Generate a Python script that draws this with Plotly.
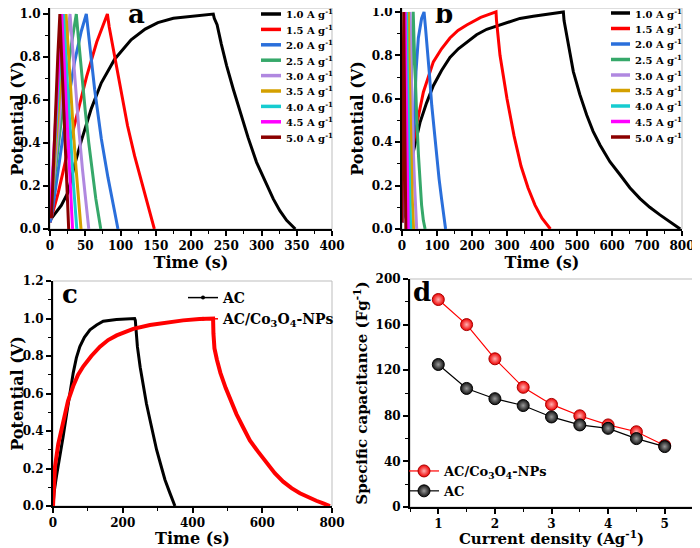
import plotly.graph_objects as go

FONT = "DejaVu Serif"

# ---------------- Panel a : GCD at various current densities ----------------
a_labels = ["1.0 A g<sup>-1</sup>", "1.5 A g<sup>-1</sup>", "2.0 A g<sup>-1</sup>", "2.5 A g<sup>-1</sup>",
            "3.0 A g<sup>-1</sup>", "3.5 A g<sup>-1</sup>", "4.0 A g<sup>-1</sup>", "4.5 A g<sup>-1</sup>",
            "5.0 A g<sup>-1</sup>"]
colors = ["#000000", "#ff0000", "#2a6fdb", "#36a86a", "#b088e0", "#d4a000", "#16ccd0", "#ff00ff", "#8b0000"]

a_t_10 = [0, 2, 16, 25.5, 35, 44.4, 58.6, 72.8, 91.7, 115, 135, 153, 175, 200, 231.6,
          233, 237, 243, 250.5, 260, 269.5, 281, 293, 305, 316.7, 326, 335.6, 348]
a_v_10 = [0.04, 0.05, 0.11, 0.17, 0.30, 0.41, 0.56, 0.68, 0.79, 0.88, 0.93, 0.96, 0.98, 0.99, 1.0,
          0.98, 0.95, 0.86, 0.76, 0.65, 0.545, 0.425, 0.31, 0.22, 0.14, 0.085, 0.04, 0.0]
a_t_15 = [0, 11.8, 23.7, 37.9, 52, 66.3, 81.4, 84, 90, 100, 110, 120, 130, 140, 148]
a_v_15 = [0.03, 0.17, 0.34, 0.52, 0.71, 0.87, 1.0, 0.94, 0.83, 0.65, 0.48, 0.34, 0.22, 0.10, 0.0]
a_t_20 = [0, 1.9, 16, 25.5, 35, 44.4, 51.5, 56.2, 63.3, 72.8, 82.2, 91.7, 96.4]
a_v_20 = [0.03, 0.05, 0.375, 0.59, 0.78, 0.92, 1.0, 0.86, 0.65, 0.42, 0.24, 0.08, 0.0]
a_t_25 = [0, 10, 20, 30, 37.3, 40, 45, 50, 55, 60, 65, 72]
a_v_25 = [0.05, 0.35, 0.62, 0.85, 1.0, 0.9, 0.72, 0.55, 0.40, 0.26, 0.14, 0.0]
a_t_30 = [0, 7, 14, 21, 28.4, 31, 36, 41, 46, 51, 55]
a_v_30 = [0.05, 0.30, 0.55, 0.78, 1.0, 0.88, 0.66, 0.46, 0.28, 0.12, 0.0]
a_t_35 = [0, 6, 12, 17, 22.7, 25, 29, 33, 37, 41, 44]
a_v_35 = [0.05, 0.30, 0.56, 0.77, 1.0, 0.88, 0.66, 0.46, 0.28, 0.12, 0.0]
a_t_40 = [0, 5, 10, 15, 19, 21, 25, 29, 33, 38]
a_v_40 = [0.05, 0.30, 0.56, 0.80, 1.0, 0.88, 0.64, 0.42, 0.22, 0.0]
a_t_45 = [0, 4, 8, 12, 16.6, 18.5, 22, 25, 28, 32]
a_v_45 = [0.05, 0.28, 0.52, 0.75, 1.0, 0.88, 0.64, 0.44, 0.25, 0.0]
a_t_50 = [2, 5, 8, 11, 14, 15.5, 18, 21, 24, 26.5]
a_v_50 = [0.05, 0.32, 0.60, 0.80, 1.0, 0.88, 0.66, 0.42, 0.20, 0.0]

# ---------------- Panel b ----------------
b_t_10 = [0, 10, 20, 32.4, 51.4, 70, 89.5, 113, 137, 161, 185, 213, 242, 280, 310, 337, 375, 420, 461,
          463, 466, 470.5, 480, 489.5, 508, 527.7, 546, 565.7, 594, 623, 651, 680, 708, 737, 766, 795]
b_v_10 = [0.03, 0.15, 0.25, 0.356, 0.49, 0.58, 0.66, 0.73, 0.79, 0.83, 0.86, 0.895, 0.92, 0.94, 0.958,
          0.97, 0.98, 0.99, 1.0,
          0.96, 0.93, 0.89, 0.81, 0.725, 0.62, 0.525, 0.45, 0.387, 0.31, 0.25, 0.19, 0.14, 0.10,
          0.065, 0.032, 0.0]
b_t_15 = [0, 8, 18, 32, 42, 61, 89.5, 113, 137, 160, 185, 225, 268.6,
          270, 272, 280, 290, 300, 320, 340, 360, 380, 400, 424]
b_v_15 = [0.03, 0.15, 0.27, 0.39, 0.48, 0.63, 0.77, 0.83, 0.88, 0.915, 0.94, 0.975, 1.0,
          0.96, 0.92, 0.80, 0.70, 0.60, 0.43, 0.29, 0.19, 0.11, 0.05, 0.0]
b_t_20 = [0, 10, 20, 30, 35.2, 40, 46.7, 56, 63,
          67, 70.5, 78, 85, 92, 99, 106, 113, 119, 124.5]
b_v_20 = [0.03, 0.12, 0.22, 0.35, 0.49, 0.725, 0.88, 0.97, 1.0,
          0.93, 0.87, 0.72, 0.57, 0.45, 0.34, 0.23, 0.14, 0.06, 0.0]
b_t_25 = [0, 10, 20, 25, 28, 30, 32, 34.5, 37, 42, 47, 52, 56, 61, 66]
b_v_25 = [0.03, 0.15, 0.30, 0.50, 0.75, 0.90, 1.0, 0.86, 0.725, 0.52, 0.34, 0.20, 0.11, 0.04, 0.0]
b_t_30 = [0, 8, 15, 19, 22, 23, 25, 28, 32, 36, 39, 42]
b_v_30 = [0.03, 0.20, 0.45, 0.70, 0.90, 1.0, 0.82, 0.60, 0.38, 0.20, 0.09, 0.0]
b_t_35 = [0, 6, 12, 15, 18, 20, 23, 26, 29, 33]
b_v_35 = [0.03, 0.25, 0.55, 0.80, 1.0, 0.80, 0.55, 0.33, 0.15, 0.0]
b_t_40 = [0, 5, 9, 11, 13, 14.5, 17, 20, 22.5, 25]
b_v_40 = [0.03, 0.30, 0.60, 0.82, 1.0, 0.80, 0.55, 0.30, 0.12, 0.0]
b_t_45 = [0, 3, 6, 9, 10.5, 12.5, 15, 18]
b_v_45 = [0.03, 0.30, 0.62, 1.0, 0.78, 0.50, 0.25, 0.0]
b_t_50 = [0, 2, 3.5, 5, 6, 7.5, 9, 11]
b_v_50 = [0.03, 0.35, 0.65, 1.0, 0.80, 0.50, 0.25, 0.0]

# ---------------- Panel c ----------------
c_ac_t = [0, 2.9, 10, 20, 29, 39, 48, 58, 67, 77, 90, 106, 125, 144, 182, 234,
          236, 239, 242, 250, 258.7, 268, 278, 287, 297, 309, 321, 335, 349.6]
c_ac_v = [0.0, 0.07, 0.16, 0.26, 0.37, 0.49, 0.60, 0.71, 0.79, 0.85, 0.90, 0.94, 0.965, 0.985, 0.995, 1.0,
          0.99, 0.93, 0.85, 0.74, 0.635, 0.545, 0.46, 0.38, 0.30, 0.22, 0.14, 0.07, 0.0]
c_co_t = [0, 2, 5.7, 15, 29.5, 43, 58, 72, 87, 110, 134.7, 158, 182.5, 230, 278, 325, 373, 420, 459,
          460, 463, 470, 480, 495, 510, 526, 545, 564.5, 588, 612, 636, 660, 684, 708, 732, 755, 775, 794]
c_co_v = [0.0, 0.10, 0.21, 0.33, 0.46, 0.56, 0.64, 0.70, 0.745, 0.80, 0.85, 0.885, 0.91, 0.945, 0.965,
          0.98, 0.99, 0.997, 1.0,
          0.92, 0.84, 0.78, 0.71, 0.63, 0.56, 0.49, 0.42, 0.35, 0.29, 0.23, 0.175, 0.13, 0.095, 0.068,
          0.045, 0.028, 0.014, 0.0]

# ---------------- Panel d ----------------
d_current = [1, 1.5, 2, 2.5, 3, 3.5, 4, 4.5, 5]
d_co = [182, 160, 130, 105, 90, 80, 72, 66, 54]
d_ac = [125, 104, 95, 89, 79, 72, 69, 60, 53]

a_series = [(a_t_10, a_v_10), (a_t_15, a_v_15), (a_t_20, a_v_20), (a_t_25, a_v_25), (a_t_30, a_v_30),
            (a_t_35, a_v_35), (a_t_40, a_v_40), (a_t_45, a_v_45), (a_t_50, a_v_50)]
b_series = [(b_t_10, b_v_10), (b_t_15, b_v_15), (b_t_20, b_v_20), (b_t_25, b_v_25), (b_t_30, b_v_30),
            (b_t_35, b_v_35), (b_t_40, b_v_40), (b_t_45, b_v_45), (b_t_50, b_v_50)]

# page body has an 8px margin: lay out in screen pixels and convert
OFF = 8
W, H = 700 - OFF, 548 - OFF


def PX(x):
    return (x - OFF) / W


def PY(y):
    return 1 - (y - OFF) / H


fig = go.Figure()

for i in range(len(a_series)):
    t, v = a_series[i]
    fig.add_trace(go.Scatter(x=t, y=v, mode="lines", name=a_labels[i], showlegend=False,
                             line=dict(color=colors[i], width=3), xaxis="x", yaxis="y"))
for i in range(len(b_series)):
    t, v = b_series[i]
    fig.add_trace(go.Scatter(x=t, y=v, mode="lines", name=a_labels[i], showlegend=False,
                             line=dict(color=colors[i], width=3), xaxis="x2", yaxis="y2"))

# panel c
fig.add_trace(go.Scatter(x=c_ac_t, y=c_ac_v, mode="lines", showlegend=False,
                         line=dict(color="black", width=3), xaxis="x3", yaxis="y3"))
fig.add_trace(go.Scatter(x=c_co_t, y=c_co_v, mode="lines", showlegend=False,
                         line=dict(color="red", width=4), xaxis="x3", yaxis="y3"))
fig.add_trace(go.Scatter(x=[None], y=[None], mode="lines+markers", name="AC", legend="legend3",
                         line=dict(color="black", width=1.5), marker=dict(size=4, color="black"),
                         xaxis="x3", yaxis="y3"))
fig.add_trace(go.Scatter(x=[None], y=[None], mode="lines+markers",
                         name="AC/Co<sub>3</sub>O<sub>4</sub>-NPs", legend="legend3",
                         line=dict(color="red", width=1.5), marker=dict(size=4, color="red"),
                         xaxis="x3", yaxis="y3"))

# panel d
fig.add_trace(go.Scatter(x=d_current, y=d_co, mode="lines+markers",
                         name="AC/Co<sub>3</sub>O<sub>4</sub>-NPs", legend="legend4",
                         line=dict(color="red", width=1.2),
                         marker=dict(size=12, color="#ee0000", line=dict(color="#aa0000", width=1),
                                     gradient=dict(type="radial", color="#ffb0b0")),
                         xaxis="x4", yaxis="y4"))
fig.add_trace(go.Scatter(x=d_current, y=d_ac, mode="lines+markers", name="AC", legend="legend4",
                         line=dict(color="black", width=1.2),
                         marker=dict(size=12, color="#111111", line=dict(color="black", width=1),
                                     gradient=dict(type="radial", color="#9a9a9a")),
                         xaxis="x4", yaxis="y4"))

tickfont = dict(family=FONT, size=12, color="black", weight="bold")


def axis(rng, dtick, minor_dtick, title, domain, anchor, fmt=None, standoff=4, tsize=16):
    d = dict(range=rng, dtick=dtick, tick0=0, domain=domain, anchor=anchor, automargin=False,
             showline=True, linecolor="black", linewidth=2, mirror=False,
             ticks="outside", ticklen=5, tickwidth=1.5, tickcolor="black",
             ticklabeloverflow="allow",
             minor=dict(ticks="outside", ticklen=3, tickwidth=1, tickcolor="black", dtick=minor_dtick),
             tickfont=tickfont, showgrid=False, zeroline=False,
             title=dict(text=title, standoff=standoff,
                        font=dict(family=FONT, size=tsize, color="black", weight="bold")))
    if fmt:
        d["tickformat"] = fmt
    return d


dom_a_x = [PX(50), PX(332)]
dom_a_y = [PY(229), 1]
dom_b_x = [PX(402), PX(682)]
dom_b_y = [PY(229), 1]
dom_c_x = [PX(53), PX(332)]
dom_c_y = [PY(506), PY(281)]
dom_d_x = [PX(410), PX(693)]
dom_d_y = [PY(507), PY(279)]

fig.update_layout(
    width=W, height=H, margin=dict(l=0, r=0, t=0, b=0),
    paper_bgcolor="white", plot_bgcolor="white",
    xaxis=axis([0, 400], 50, 25, "Time (s)", dom_a_x, "y", standoff=1),
    yaxis=axis([0, 1.028], 0.2, 0.1, "Potential (V)", dom_a_y, "x", ".1f"),
    xaxis2=axis([0, 800], 100, 50, "Time (s)", dom_b_x, "y2", standoff=1),
    yaxis2=axis([0, 1.018], 0.2, 0.1, "Potential (V)", dom_b_y, "x2", ".1f"),
    xaxis3=axis([0, 800], 200, 100, "Time (s)", dom_c_x, "y3", standoff=1),
    yaxis3=axis([0, 1.2], 0.2, 0.1, "Potential (V)", dom_c_y, "x3", ".1f"),
    xaxis4=axis([0.5, 5.5], 1, 0.5, "Current density (Ag<sup>-1</sup>)", dom_d_x, "y4",
                standoff=3, tsize=15),
    yaxis4=axis([0, 200], 40, 20, "Specific capacitance (Fg<sup>-1</sup>)", dom_d_y, "x4", tsize=15),
    legend3=dict(x=PX(183), y=PY(282), xanchor="left", yanchor="top", bgcolor="rgba(0,0,0,0)",
                 font=dict(family=FONT, size=14, color="black", weight="bold")),
    legend4=dict(x=PX(404), y=PY(506), xanchor="left", yanchor="bottom", bgcolor="rgba(0,0,0,0)",
                 font=dict(family=FONT, size=13, color="black", weight="bold")),
    showlegend=True,
)

# light grey frame (top/right) for each panel
for xr, yr in [("x", "y"), ("x2", "y2"), ("x3", "y3"), ("x4", "y4")]:
    fig.add_shape(type="rect", xref=xr + " domain", yref=yr + " domain", x0=0, x1=1, y0=0, y1=1,
                  line=dict(color="#bdbdbd", width=1), layer="below")

# compact legends for panels a and b (line swatch + label)
for (lx0, lx1, ltx, ly0, lstep) in [(261, 281, 284, 14, 15.4), (611, 630, 633, 13, 15.5)]:
    for i in range(len(a_labels)):
        yy = PY(ly0 + lstep * i)
        fig.add_shape(type="line", xref="paper", yref="paper", x0=PX(lx0), x1=PX(lx1), y0=yy, y1=yy,
                      line=dict(color=colors[i], width=3.5))
        fig.add_annotation(xref="paper", yref="paper", x=PX(ltx), y=yy, text=a_labels[i],
                           showarrow=False, xanchor="left", yanchor="middle",
                           font=dict(family=FONT, size=10, color="black", weight="bold"))

# panel letters
for txt, xx, yy in [("a", 136, 14), ("b", 444, 14), ("c", 70, 294), ("d", 422, 292)]:
    fig.add_annotation(xref="paper", yref="paper", x=PX(xx), y=PY(yy), text=txt,
                       showarrow=False, xanchor="center", yanchor="middle",
                       font=dict(family=FONT, size=26, color="black", weight="bold"))

fig.write_html("out.html")
